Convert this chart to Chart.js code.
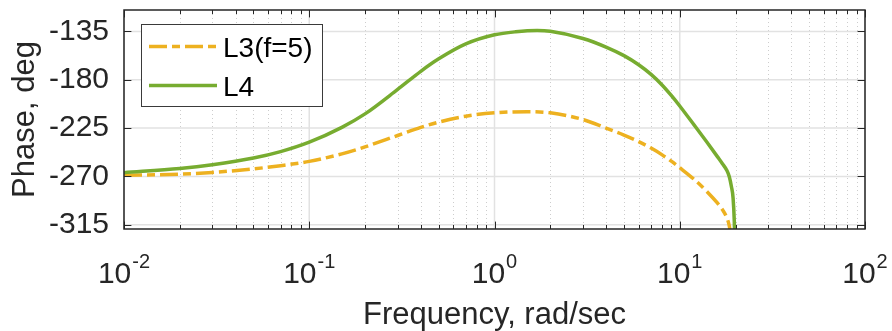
<!DOCTYPE html>
<html>
<head>
<meta charset="utf-8">
<title>Phase response</title>
<script src="https://cdn.jsdelivr.net/npm/chart.js@4/dist/chart.umd.min.js"></script>
<style>
  html, body { margin: 0; padding: 0; background: #ffffff; }
  #wrap { width: 892px; height: 331px; }
</style>
</head>
<body>
<div id="wrap"><canvas id="phaseChart" width="892" height="331"></canvas></div>
<script>
// Frequency samples (rad/sec) and phase (deg) for each loop
const freqL3 = [0.01, 0.02, 0.03, 0.05, 0.07, 0.1, 0.15, 0.2, 0.3, 0.4, 0.5, 0.7, 1, 1.5, 2, 3, 4, 5, 6, 7, 8, 9, 10, 12, 14, 16, 17, 18, 18.5, 19, 19.5];
const phaseL3 = [-269, -268, -266.3, -263, -260, -256, -249, -242.5, -231.9, -224.4, -219.4, -213.9, -210.8, -209.7, -210.8, -217, -225, -231.5, -237.6, -243.6, -249.7, -255.8, -261.9, -273, -284, -295, -301, -309, -316, -330, -360];

const freqL4 = [0.01, 0.02, 0.03, 0.05, 0.07, 0.1, 0.15, 0.2, 0.3, 0.4, 0.5, 0.7, 1, 1.3, 1.7, 2, 3, 4, 5, 6, 7, 8, 9, 10, 12, 14, 16, 17, 18, 18.5, 19, 19.4, 19.7, 19.9];
const phaseL4 = [-266.5, -262.6, -259.1, -252.9, -246.9, -238.1, -224.3, -211.8, -189, -172.1, -160.5, -146.6, -138.1, -135.3, -134.1, -134.8, -141.5, -149.5, -157.5, -166, -175, -184.6, -194.6, -204.4, -222.5, -238, -251.8, -258.2, -264.7, -270.1, -279.4, -290, -312, -345];

// Axis ticks
const yTicks = [-315, -270, -225, -180, -135];
const xDecades = [0.01, 0.1, 1, 10, 100];
const xTickExponents = ['-2', '-1', '0', '1', '2'];
const seriesNames = ['L3(f=5)', 'L4'];

const FONT = '"Liberation Sans", Arial, Helvetica, sans-serif';
const INK = '#262626';

function toPoints(xs, ys) {
  return xs.map((f, i) => ({ x: f, y: ys[i] }));
}

// Grid, axes box, inward tick marks, superscript decade labels and the legend
const axesDecor = {
  id: 'axesDecor',
  beforeDatasetsDraw(chart) {
    const { ctx, chartArea: a, scales: { x, y } } = chart;
    ctx.save();
    // minor dotted grid at 2..9 of each decade
    ctx.strokeStyle = '#cdcdcd';
    ctx.lineWidth = 1;
    ctx.setLineDash([1, 3]);
    for (let d = 0; d < xDecades.length - 1; d++) {
      for (let k = 2; k <= 9; k++) {
        const px = Math.round(x.getPixelForValue(xDecades[d] * k)) + 0.5;
        ctx.beginPath(); ctx.moveTo(px, a.top); ctx.lineTo(px, a.bottom); ctx.stroke();
      }
    }
    // major solid grid
    ctx.setLineDash([]);
    ctx.strokeStyle = '#e2e2e2';
    ctx.lineWidth = 1.5;
    xDecades.forEach(v => {
      const px = x.getPixelForValue(v);
      ctx.beginPath(); ctx.moveTo(px, a.top); ctx.lineTo(px, a.bottom); ctx.stroke();
    });
    yTicks.forEach(v => {
      const py = y.getPixelForValue(v);
      ctx.beginPath(); ctx.moveTo(a.left, py); ctx.lineTo(a.right, py); ctx.stroke();
    });
    ctx.restore();
  },
  afterDatasetsDraw(chart) {
    const { ctx, chartArea: a, scales: { x, y } } = chart;
    ctx.save();
    ctx.strokeStyle = INK;
    ctx.lineWidth = 1.5;
    ctx.setLineDash([]);
    ctx.strokeRect(a.left, a.top, a.right - a.left, a.bottom - a.top);
    const major = 7.4, minor = 4;
    ctx.lineWidth = 1;
    const tick = (px, len) => {
      ctx.beginPath();
      ctx.moveTo(px, a.bottom); ctx.lineTo(px, a.bottom - len);
      ctx.moveTo(px, a.top); ctx.lineTo(px, a.top + len);
      ctx.stroke();
    };
    xDecades.forEach(v => tick(Math.round(x.getPixelForValue(v)) + 0.5, major));
    for (let d = 0; d < xDecades.length - 1; d++) {
      for (let k = 2; k <= 9; k++) tick(Math.round(x.getPixelForValue(xDecades[d] * k)) + 0.5, minor);
    }
    yTicks.forEach(v => {
      const py = Math.round(y.getPixelForValue(v)) + 0.5;
      ctx.beginPath();
      ctx.moveTo(a.left, py); ctx.lineTo(a.left + major, py);
      ctx.moveTo(a.right, py); ctx.lineTo(a.right - major, py);
      ctx.stroke();
    });
    ctx.restore();
  },
  afterDraw(chart) {
    const { ctx, scales: { x } } = chart;
    ctx.save();
    // decade labels 10^n
    ctx.fillStyle = INK;
    ctx.textBaseline = 'alphabetic';
    ctx.textAlign = 'left';
    xDecades.forEach((v, i) => {
      const px = x.getPixelForValue(v);
      ctx.font = `30px ${FONT}`;
      const wb = ctx.measureText('10').width;
      ctx.font = `20px ${FONT}`;
      const ws = ctx.measureText(xTickExponents[i]).width;
      const gap = 1;
      const left = px - (wb + gap + ws) / 2;
      ctx.font = `30px ${FONT}`;
      ctx.fillText('10', left, 283);
      ctx.font = `20px ${FONT}`;
      ctx.fillText(xTickExponents[i], left + wb + gap, 268);
    });

    // legend
    const box = { x: 141.5, y: 24.5, w: 181, h: 82 };
    ctx.fillStyle = '#ffffff';
    ctx.fillRect(box.x, box.y, box.w, box.h);
    ctx.strokeStyle = '#3a3a3a';
    ctx.lineWidth = 1;
    ctx.strokeRect(box.x, box.y, box.w, box.h);
    const rows = [46.5, 85.5];
    const ds = chart.data.datasets;
    seriesNames.forEach((name, i) => {
      const d = ds.find(s => s.label === name);
      ctx.save();
      ctx.strokeStyle = d.borderColor;
      ctx.lineWidth = d.borderWidth;
      ctx.lineCap = 'butt';
      ctx.setLineDash(d.borderDash || []);
      ctx.beginPath();
      ctx.moveTo(149, rows[i]);
      ctx.lineTo(217, rows[i]);
      ctx.stroke();
      ctx.restore();
      ctx.fillStyle = '#000000';
      ctx.font = `28px ${FONT}`;
      ctx.textBaseline = 'alphabetic';
      ctx.fillText(name, 223, rows[i] + 10);
    });
    ctx.restore();
  }
};

new Chart(document.getElementById('phaseChart'), {
  type: 'line',
  data: {
    datasets: [
      {
        label: seriesNames[0],
        data: toPoints(freqL3, phaseL3),
        borderColor: '#EDB120',
        borderWidth: 3.5,
        borderDash: [18, 5, 8, 5],
        borderCapStyle: 'butt',
        pointRadius: 0,
        fill: false,
        cubicInterpolationMode: 'monotone',
        order: 1
      },
      {
        label: seriesNames[1],
        data: toPoints(freqL4, phaseL4),
        borderColor: '#77AC30',
        borderWidth: 3.5,
        pointRadius: 0,
        fill: false,
        cubicInterpolationMode: 'monotone',
        order: 0
      }
    ]
  },
  options: {
    responsive: false,
    animation: false,
    devicePixelRatio: 1,
    layout: { padding: { left: 0, right: 27, top: 10, bottom: 0 } },
    plugins: {
      legend: { display: false },
      tooltip: { enabled: false },
      title: { display: false }
    },
    scales: {
      x: {
        type: 'logarithmic',
        min: 0.01,
        max: 100,
        position: 'bottom',
        grid: { display: false },
        border: { display: false },
        ticks: { display: false },
        title: {
          display: true,
          text: 'Frequency, rad/sec',
          color: INK,
          font: { family: FONT, size: 31, lineHeight: 1 },
          padding: { top: 0, bottom: 0 }
        },
        afterFit(scale) {
          scale.height = 102;
          scale.paddingLeft = 0;
          scale.paddingRight = 0;
        }
      },
      y: {
        type: 'linear',
        min: -319,
        max: -115,
        position: 'left',
        grid: { display: false, drawTicks: false },
        border: { display: false },
        afterBuildTicks(scale) { scale.ticks = yTicks.map(v => ({ value: v })); },
        ticks: {
          padding: 15,
          color: INK,
          font: { family: FONT, size: 30 },
          callback: v => String(v)
        },
        title: {
          display: true,
          text: 'Phase, deg',
          color: INK,
          font: { family: FONT, size: 31, lineHeight: 1 },
          padding: { top: 10, bottom: 0 }
        },
        afterFit(scale) {
          scale.width = 124;
          scale.paddingTop = 0;
          scale.paddingBottom = 0;
        }
      }
    }
  },
  plugins: [axesDecor]
});
</script>
</body>
</html>
